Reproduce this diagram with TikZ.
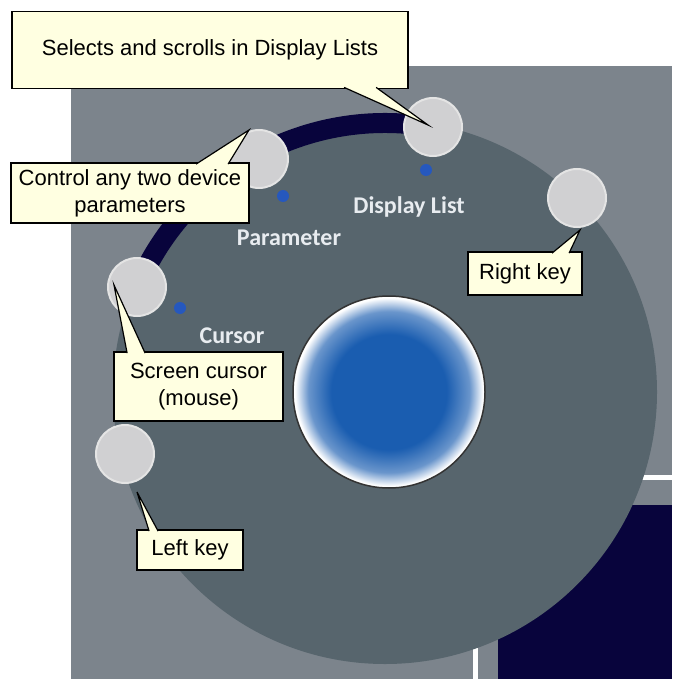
\documentclass[tikz,border=0pt]{standalone}
\usepackage{fontspec}
\setmainfont{Liberation Sans}
\newfontfamily\dialfont{Carlito}
\usetikzlibrary{calc}

\definecolor{panelgray}{RGB}{124,132,140}
\definecolor{dialgray}{RGB}{87,101,109}
\definecolor{darknavy}{RGB}{8,4,60}
\definecolor{keygray}{RGB}{208,208,210}
\definecolor{keyrim}{RGB}{228,228,228}
\definecolor{dotblue}{RGB}{38,88,190}
\definecolor{bulbblue}{RGB}{26,93,176}
\definecolor{tipyellow}{RGB}{255,255,225}
\definecolor{labelwhite}{RGB}{232,236,240}

\pgfdeclareradialshading{bulb}{\pgfpoint{0bp}{0bp}}{color(0bp)=(bulbblue); color(15bp)=(bulbblue); color(21bp)=(bulbblue!65!white); color(24.5bp)=(white); color(50bp)=(white)}

\tikzset{
	key/.style={circle, fill=keygray, draw=keyrim, line width=2pt, minimum size=58pt, inner sep=0pt},
	leddot/.style={circle, fill=dotblue, minimum size=12pt, inner sep=0pt},
	dialtext/.style={text=labelwhite, anchor=base, font=\dialfont\bfseries\fontsize{24}{28}\selectfont},
	callout/.style={fill=tipyellow, draw=black, line width=1.8pt, inner sep=0pt, align=center, font=\fontsize{22}{27}\selectfont},
	pointer/.style={fill=tipyellow},
	pointerline/.style={draw=black, line width=1.2pt}
}

% base corner, tip, base corner
\newcommand{\drawpointer}[3]{%
	\fill[pointer] (#1) -- (#2) -- (#3) -- cycle;
	\draw[pointerline] (#1) -- (#2) -- (#3);}

\begin{document}
\begin{tikzpicture}[x=1pt,y=-1pt]
		\useasboundingbox (0,0) rectangle (672,679);
		\fill[white] (0,0) rectangle (672,679);

		% panel behind the dial
		\fill[panelgray] (71,66) rectangle (672,679);
		\draw[white,line width=5pt] (475,477) -- (672,477);
		\draw[white,line width=5pt] (475,477) -- (475,679);
		\fill[darknavy] (498,505) rectangle (672,679);

		% dial
		\coordinate (ctr) at (385,392);
		\fill[dialgray] (ctr) circle[radius=272];
		\draw[darknavy,line width=20pt] (ctr) ++(-157:269) arc[start angle=-157, end angle=-80, radius=269];

		% mode dots and labels
		\node[leddot] (dDisp) at (426,170) {};
		\node[leddot] (dParam) at (283,196) {};
		\node[leddot] (dCursor) at (180,308) {};
		\node[dialtext] (lDisp) at (409,213) {Display List};
		\node[dialtext] (lParam) at (289,245) {Parameter};
		\node[dialtext] (lCursor) at (232,343) {Cursor};

		% centre button
		\shade[shading=bulb] (389,392) circle[radius=96];
		\draw[black!80,line width=1.5pt] (389,392) circle[radius=96];

		% keys
		\node[key] (bDisp) at (433,127) {};
		\node[key] (bRight) at (577,198) {};
		\node[key] (bParam) at (259,159) {};
		\node[key] (bCursor) at (137,287) {};
		\node[key] (bLeft) at (125,454) {};

		% callouts
		\node[callout, minimum width=396pt, minimum height=77pt] (cDisp) at (210,50) {Selects and scrolls in Display Lists};
		\node[callout, minimum width=238pt, minimum height=60pt] (cParam) at (130,193) {Control any two device\\parameters};
		\node[callout, minimum width=169pt, minimum height=69pt] (cCursor) at (198.5,386.5) {Screen cursor\\(mouse)};
		\node[callout, minimum width=114pt, minimum height=43pt] (cRight) at (525,273.5) {Right key};
		\node[callout, minimum width=106pt, minimum height=40pt] (cLeft) at (190,550) {Left key};

		% pointer tips
		\coordinate (tDisp) at (428,125);
		\coordinate (tParam) at (249,130);
		\coordinate (tCursor) at (114,285);
		\coordinate (tRight) at (580,230);
		\coordinate (tLeft) at (137,492);

		\drawpointer{$(cDisp.south west)+(333,-2)$}{tDisp}{$(cDisp.south west)+(365,-2)$}
		\drawpointer{$(cParam.north west)+(186,2)$}{tParam}{$(cParam.north west)+(218,2)$}
		\drawpointer{$(cCursor.north west)+(14,2)$}{tCursor}{$(cCursor.north west)+(32,2)$}
		\drawpointer{$(cRight.north west)+(85,2)$}{tRight}{$(cRight.north west)+(102,2)$}
		\drawpointer{$(cLeft.north west)+(13,2)$}{tLeft}{$(cLeft.north west)+(22,2)$}
	\end{tikzpicture}
\end{document}
